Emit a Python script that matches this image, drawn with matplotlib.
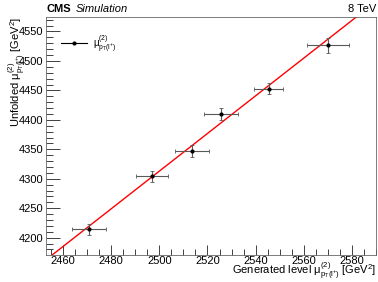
import numpy as np
import matplotlib
matplotlib.use('Agg')
import matplotlib.pyplot as plt
from matplotlib.ticker import MultipleLocator
from matplotlib.lines import Line2D

plt.rcParams['font.family'] = ['Liberation Sans', 'DejaVu Sans']
plt.rcParams['mathtext.fontset'] = 'custom'
plt.rcParams['mathtext.rm'] = 'Liberation Sans'
plt.rcParams['mathtext.it'] = 'Liberation Sans'

# points
gen_mu = [2470.8, 2496.9, 2513.5, 2525.7, 2545.4, 2570.1]
gen_err = [7.0, 6.6, 7.1, 7.0, 6.0, 8.8]
unf_mu = [4214.3, 4304.0, 4347.6, 4410.0, 4453.0, 4526.8]
unf_err = [9.4, 9.0, 10.0, 10.0, 9.0, 12.8]

# straight-line fit drawn in red
fit_slope = 3.2
fit_intercept = -3687.1

xlim = (2453, 2590)
ylim = (4170.5, 4574.6)

mu_sym = r'$\mathrm{\mu}^{(2)}_{\mathrm{p_{T}(l^{+})}}$'

fig = plt.figure(figsize=(3.78, 2.82), dpi=100)
ax = fig.add_axes([0.122, 0.0957, 0.873, 0.844])

xx = np.array(xlim, dtype=float)
ax.plot(xx, fit_slope * xx + fit_intercept, color='red', lw=1.0, zorder=2)

ax.errorbar(gen_mu, unf_mu, xerr=gen_err, yerr=unf_err, fmt='o', ms=2,
            color='black', ecolor='0.35', elinewidth=0.8, capsize=1.5,
            capthick=0.6, zorder=3)

ax.set_xlim(*xlim)
ax.set_ylim(*ylim)
ax.xaxis.set_major_locator(MultipleLocator(20))
ax.xaxis.set_minor_locator(MultipleLocator(5))
ax.yaxis.set_major_locator(MultipleLocator(50))
ax.yaxis.set_minor_locator(MultipleLocator(10))
ax.tick_params(which='both', direction='in', top=False, right=False,
               labelsize=8, colors='0.25', labelcolor='black', width=0.7)
ax.tick_params(axis='x', which='major', length=7, pad=1)
ax.tick_params(axis='x', which='minor', length=4)
ax.tick_params(axis='y', which='major', length=10, pad=2)
ax.tick_params(axis='y', which='minor', length=5)
for s in ax.spines.values():
    s.set_linewidth(0.6)
    s.set_color('0.4')

# ROOT-style axis titles, pushed to the corners
fig.text(0.995, 0.027, 'Generated level ' + mu_sym + r' [GeV$^{2}$]',
         ha='right', va='baseline', fontsize=8)
fig.text(0.015, 0.94, 'Unfolded ' + mu_sym + r' [GeV$^{2}$]',
         ha='left', va='top', rotation=90, fontsize=8)

ax.text(0.0, 1.012, 'CMS', transform=ax.transAxes, fontsize=8,
        fontweight='bold', ha='left', va='bottom')
ax.text(0.09, 1.012, 'Simulation', transform=ax.transAxes, fontsize=8,
        style='italic', ha='left', va='bottom')
ax.text(1.0, 1.012, '8 TeV', transform=ax.transAxes, fontsize=8,
        ha='right', va='bottom')

handle = Line2D([], [], color='black', marker='o', ms=2, lw=0.8)
ax.legend([handle], [mu_sym], loc='upper left', bbox_to_anchor=(0.02, 0.97),
          frameon=False, fontsize=7, handlelength=2.6, handletextpad=0.6)

fig.savefig('out.png', dpi=100)
